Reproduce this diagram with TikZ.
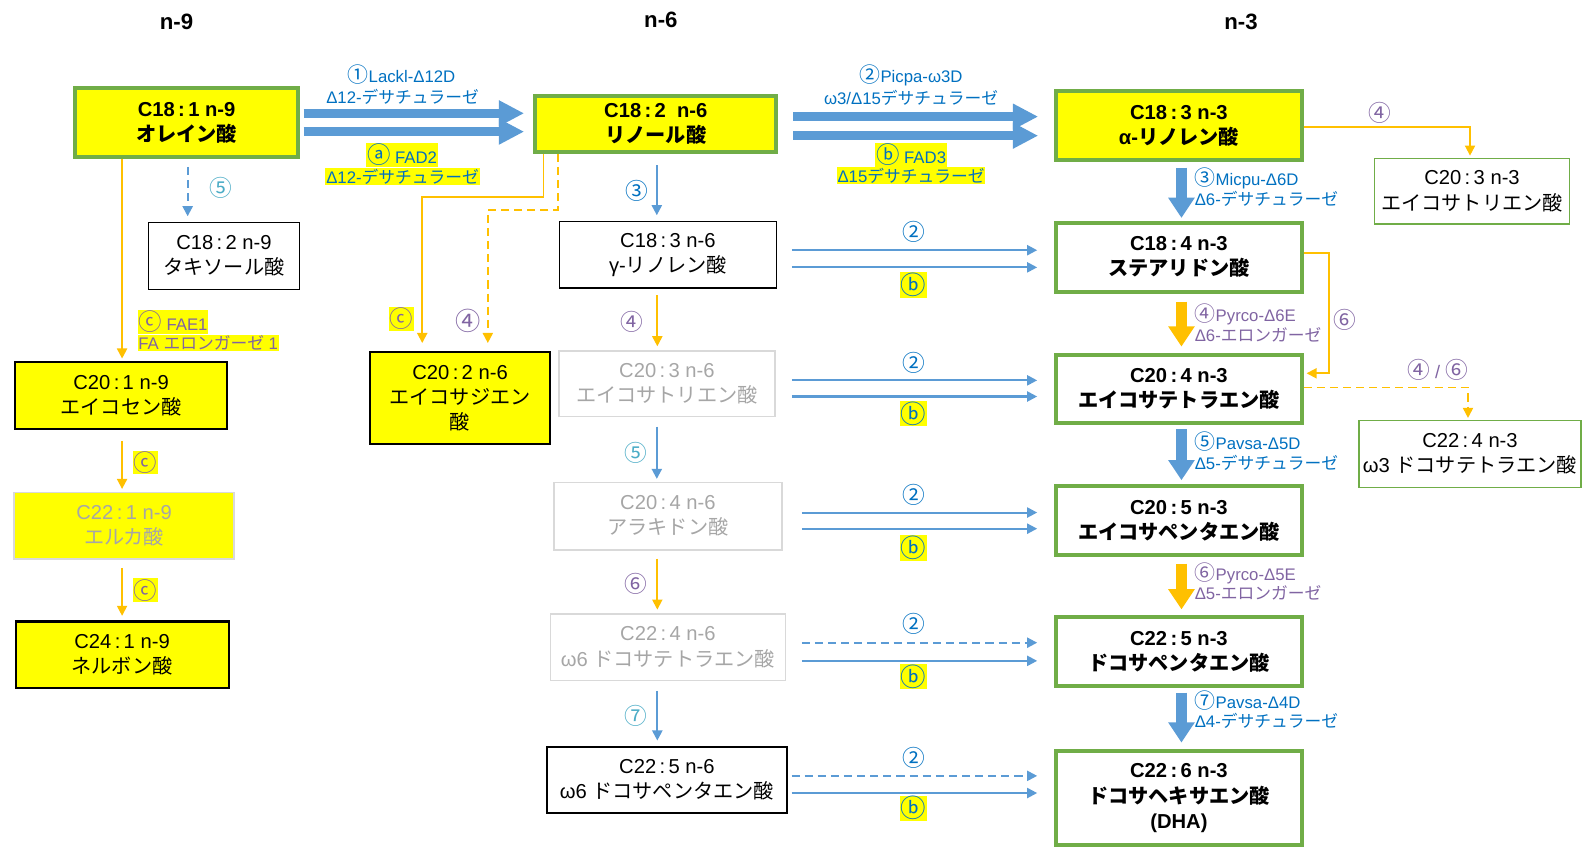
\documentclass[tikz,border=0pt]{standalone}
\usepackage{fontspec}
\setmainfont{Liberation Sans}
\newfontfamily\jpfont{Noto Sans CJK JP}
\newfontfamily\cfont[Scale=1.25]{Noto Sans CJK JP}
\newfontfamily\lfont[Scale=1.4]{Noto Sans CJK JP}
\newcommand\JP[1]{{\jpfont #1}}
\newcommand\CI[1]{{\cfont #1}}
\newcommand\CL[1]{{\lfont #1}}
\usetikzlibrary{arrows.meta,calc}
\definecolor{cblue}{HTML}{5B9BD5}
\definecolor{corange}{HTML}{FFC000}
\definecolor{cgreen}{HTML}{70AD47}
\definecolor{cyel}{HTML}{FFFF00}
\definecolor{tblue}{HTML}{0070C0}
\definecolor{tpurple}{HTML}{8064A2}
\definecolor{tcyan}{HTML}{4BACC6}
\definecolor{cgrayline}{HTML}{D9D9D9}
\definecolor{cgraytext}{HTML}{A6A6A6}
\begin{document}
\begin{tikzpicture}[x=0.5pt,y=-0.5pt,
  box/.style={draw=black, line width=0.75pt, align=center, inner sep=0pt, text=black, font=\fontsize{10}{12.5}\selectfont},
  gbox/.style={box, draw=cgreen, line width=2pt, font=\fontsize{10}{12.5}\selectfont\bfseries},
  graybox/.style={box, draw=cgrayline, text=cgraytext},
  tgbox/.style={box, draw=cgreen, line width=0.75pt},
  lbl/.style={inner sep=0.4pt, font=\fontsize{8.3}{9.5}\selectfont},
  cl/.style={inner sep=0.4pt, font=\fontsize{9}{10}\selectfont},
  hl/.style={fill=cyel},
  hdr/.style={font=\fontsize{11}{12}\selectfont\bfseries},
  bigh/.style={draw=cblue, line width=4.5pt, -{Triangle[length=12.5pt,width=12pt]}},
  bigvb/.style={draw=cblue, line width=5pt, -{Triangle[length=10pt,width=12.5pt]}},
  bigvo/.style={draw=corange, line width=5pt, -{Triangle[length=10pt,width=12.5pt]}},
  thb/.style={draw=cblue, line width=1pt, -{Triangle[length=5pt,width=5pt]}},
  tho/.style={draw=corange, line width=0.9pt, -{Triangle[length=5pt,width=5pt]}},
  dsh/.style={dash pattern=on 4pt off 2.5pt}
]
\useasboundingbox (0,0) rectangle (1568,839);

% headers
\node[hdr] (h9) at (175,22) {n-9};
\node[hdr] (h6) at (655,20) {n-6};
\node[hdr] (h3) at (1230,22) {n-3};

% n-9 column
\node[gbox, fill=cyel, minimum width=110.5pt, minimum height=34pt] (oleic) at (185,121.5) {C18\,:\,1 n-9\\\JP{オレイン酸}};
\node[box, fill=white, minimum width=75pt, minimum height=33pt] (taxo) at (222,253.7) {C18\,:\,2 n-9\\\JP{タキソール酸}};
\node[box, line width=1pt, fill=cyel, minimum width=105pt, minimum height=33pt] (c201) at (120,392) {C20\,:\,1 n-9\\\JP{エイコセン酸}};
\node[graybox, fill=cyel, minimum width=109pt, minimum height=33pt] (c221) at (123,521) {C22\,:\,1 n-9\\\JP{エルカ酸}};
\node[box, line width=1pt, fill=cyel, minimum width=105.5pt, minimum height=33pt] (c241) at (121,649) {C24\,:\,1 n-9\\\JP{ネルボン酸}};

% n-6 column
\node[gbox, fill=cyel, minimum width=119.5pt, minimum height=27.5pt] (lino) at (650,123) {C18\,:\,2 \ n-6\\\JP{リノール酸}};
\node[box, minimum width=107.5pt, minimum height=33pt] (gla) at (662,252.5) {C18\,:\,3 n-6\\γ-\JP{リノレン酸}};
\node[box, line width=1pt, fill=cyel, minimum width=89pt, minimum height=45.5pt] (c202) at (456,394.5) {C20\,:\,2 n-6\\\JP{エイコサジエン}\\\JP{酸}};
\node[graybox, minimum width=107pt, minimum height=32.5pt] (c203) at (661,380.5) {C20\,:\,3 n-6\\\JP{エイコサトリエン酸}};
\node[graybox, minimum width=113pt, minimum height=33.5pt] (c204) at (662,511.5) {C20\,:\,4 n-6\\\JP{アラキドン酸}};
\node[graybox, minimum width=116.5pt, minimum height=33pt] (c224) at (662,641.5) {C22\,:\,4 n-6\\ω6 \JP{ドコサテトラエン酸}};
\node[box, line width=1pt, minimum width=119pt, minimum height=33pt] (c225) at (661,773) {C22\,:\,5 n-6\\ω6 \JP{ドコサペンタエン酸}};

% n-3 column
\node[gbox, fill=cyel, minimum width=121.5pt, minimum height=34pt] (ala) at (1168.5,124.5) {C18\,:\,3 n-3\\α-\JP{リノレン酸}};
\node[gbox, minimum width=121.5pt, minimum height=34pt] (sda) at (1168.5,255) {C18\,:\,4 n-3\\\JP{ステアリドン酸}};
\node[gbox, minimum width=121.5pt, minimum height=34pt] (eta) at (1168.5,385.5) {C20\,:\,4 n-3\\\JP{エイコサテトラエン酸}};
\node[gbox, minimum width=121.5pt, minimum height=34pt] (epa) at (1168.5,516) {C20\,:\,5 n-3\\\JP{エイコサペンタエン酸}};
\node[gbox, minimum width=121.5pt, minimum height=34pt] (dpa) at (1168.5,646) {C22\,:\,5 n-3\\\JP{ドコサペンタエン酸}};
\node[gbox, minimum width=121.5pt, minimum height=47pt] (dha) at (1168.5,791) {C22\,:\,6 n-3\\\JP{ドコサヘキサエン酸}\\(DHA)};
\node[tgbox, minimum width=96.5pt, minimum height=32.5pt] (c203n3) at (1459,189.5) {C20\,:\,3 n-3\\\JP{エイコサトリエン酸}};
\node[tgbox, minimum width=110pt, minimum height=33pt] (c224n3) at (1457,450) {C22\,:\,4 n-3\\ω3 \JP{ドコサテトラエン酸}};

% thick horizontal arrows
\draw[bigh, shorten >=4.5pt] ([shift={(3.5,-9.2)}]oleic.east) coordinate (o1) -- (o1 -| lino.west);
\draw[bigh, shorten >=4.5pt] ([shift={(3.5,9)}]oleic.east) coordinate (o2) -- (o2 -| lino.west);
\draw[bigh, shorten >=8pt] ([shift={(14.5,-7.4)}]lino.east) coordinate (l1) -- (l1 -| ala.west);
\draw[bigh, shorten >=8pt] ([shift={(14.5,11.5)}]lino.east) coordinate (l2) -- (l2 -| ala.west);

\node[lbl, text=tblue] (lA1) at (398,74) {\CI{①}Lackl-Δ12D};
\node[lbl, text=tblue] (lA2) at (399,96) {Δ12-\JP{デサチュラーゼ}};
\node[lbl, text=tblue, hl] (lA3) at (398.5,153.6) {\CL{ⓐ} FAD2};
\node[lbl, text=tblue, hl] (lA4) at (399,175) {Δ12-\JP{デサチュラーゼ}};
\node[lbl, text=tblue] (lB1) at (903,74.3) {\CI{②}Picpa-ω3D};
\node[lbl, text=tblue] (lB2) at (903,96.5) {ω3/Δ15\JP{デサチュラーゼ}};
\node[lbl, text=tblue, hl] (lB3) at (903,153.6) {\CL{ⓑ} FAD3};
\node[lbl, text=tblue, hl] (lB4) at (903,174) {Δ15\JP{デサチュラーゼ}};

% n-9 column connectors
\draw[thb, dsh, shorten >=2.8pt] ([shift={(1,8)}]oleic.south) coordinate (d5) -- (d5 |- taxo.north);
\node[cl, text=tcyan] (k5) at (219,186) {\CI{⑤}};
\draw[tho, shorten >=1.3pt] ([shift={(-64,0)}]oleic.south) coordinate (f1) -- (f1 |- c201.north);
\node[lbl, text=tpurple, hl, anchor=west] (kc1) at (136,319) {\CL{ⓒ} FAE1};
\node[lbl, text=tpurple, hl, anchor=west] (kc2) at (136,340) {FA \JP{エロンガーゼ} 1};
\draw[tho, shorten >=1.3pt] ([shift={(1,11)}]c201.south) coordinate (f2) -- (f2 |- c221.north);
\node[lbl, text=tpurple, hl] (kc3) at (144,458.6) {\CL{ⓒ}};
\draw[tho, shorten >=2.3pt] ([shift={(-2,8)}]c221.south) coordinate (f3) -- (f3 |- c241.north);
\node[lbl, text=tpurple, hl] (kc4) at (144,585) {\CL{ⓒ}};

% linoleic to C20:2
\draw[tho, shorten >=4pt] ([shift={(-111.3,0)}]lino.south) -- ++(0,43) -| ([shift={(-37.5,0)}]c202.north);
\draw[tho, dsh, shorten >=4pt] ([shift={(-97,0)}]lino.south) -- ++(0,55.5) -| ([shift={(27.5,0)}]c202.north);
\node[lbl, text=tpurple, hl] (kc5) at (398,316) {\CL{ⓒ}};
\node[cl, text=tpurple, font=\fontsize{10}{11}\selectfont] (k4a) at (464,318) {\CI{④}};

% n-6 vertical chain
\draw[thb, shorten >=2.7pt] ([shift={(1,11.4)}]lino.south) coordinate (v1) -- (v1 |- gla.north);
\node[cl, text=tblue] (k3) at (631,189) {\CI{③}};
\draw[tho, shorten >=2pt] ([shift={(-10.5,6.2)}]gla.south) coordinate (v2) -- (v2 |- c203.north);
\node[cl, text=tpurple] (k4b) at (626,319) {\CI{④}};
\draw[thb, shorten >=1.3pt] ([shift={(-10,9)}]c203.south) coordinate (v3) -- (v3 |- c204.north);
\node[cl, text=tcyan] (k5b) at (630,449) {\CI{⑤}};
\draw[tho, shorten >=1.75pt] ([shift={(-10.5,8)}]c204.south) coordinate (v4) -- (v4 |- c224.north);
\node[cl, text=tpurple] (k6) at (630,579) {\CI{⑥}};
\draw[thb, shorten >=2.5pt] ([shift={(-10.5,9.4)}]c224.south) coordinate (v5) -- (v5 |- c225.north);
\node[cl, text=tcyan] (k7) at (630,710) {\CI{⑦}};

% n-6 to n-3 rows
\draw[thb, shorten >=8.5pt] ([shift={(14.5,-4.5)}]gla.east) coordinate (r1a) -- (r1a -| sda.west);
\draw[thb, shorten >=8.5pt] ([shift={(14.5,12.5)}]gla.east) coordinate (r1b) -- (r1b -| sda.west);
\node[cl, text=tblue] (q1a) at (906,229.6) {\CI{②}};
\node[cl, text=tblue, hl] (q1b) at (905,282.5) {\CL{ⓑ}};
\draw[thb, shorten >=8.5pt] ([shift={(16,-3.5)}]c203.east) coordinate (r2a) -- (r2a -| eta.west);
\draw[thb, shorten >=8.5pt] ([shift={(16,12.5)}]c203.east) coordinate (r2b) -- (r2b -| eta.west);
\node[cl, text=tblue] (q2a) at (906,359.5) {\CI{②}};
\node[cl, text=tblue, hl] (q2b) at (905,410) {\CL{ⓑ}};
\draw[thb, shorten >=8.5pt] ([shift={(19,-3.5)}]c204.east) coordinate (r3a) -- (r3a -| epa.west);
\draw[thb, shorten >=8.5pt] ([shift={(19,12.5)}]c204.east) coordinate (r3b) -- (r3b -| epa.west);
\node[cl, text=tblue] (q3a) at (906,490.6) {\CI{②}};
\node[cl, text=tblue, hl] (q3b) at (905,543) {\CL{ⓑ}};
\draw[thb, dsh, shorten >=8.5pt] ([shift={(15.5,-4.5)}]c224.east) coordinate (r4a) -- (r4a -| dpa.west);
\draw[thb, shorten >=8.5pt] ([shift={(15.5,13.5)}]c224.east) coordinate (r4b) -- (r4b -| dpa.west);
\node[cl, text=tblue] (q4a) at (906,618.5) {\CI{②}};
\node[cl, text=tblue, hl] (q4b) at (905,670.6) {\CL{ⓑ}};
\draw[thb, dsh, shorten >=8.5pt] ([shift={(3.5,-4)}]c225.east) coordinate (r5a) -- (r5a -| dha.west);
\draw[thb, shorten >=8.5pt] ([shift={(3.5,13)}]c225.east) coordinate (r5b) -- (r5b -| dha.west);
\node[cl, text=tblue] (q5a) at (906,751.5) {\CI{②}};
\node[cl, text=tblue, hl] (q5b) at (905,801) {\CL{ⓑ}};

% n-3 vertical thick arrows
\draw[bigvb, shorten >=1.5pt] ([shift={(2.5,5.6)}]ala.south) coordinate (w1) -- (w1 |- sda.north);
\draw[bigvo, shorten >=3pt] ([shift={(2.5,8)}]sda.south) coordinate (w2) -- (w2 |- eta.north);
\draw[bigvb, shorten >=2pt] ([shift={(2.5,4)}]eta.south) coordinate (w3) -- (w3 |- epa.north);
\draw[bigvo, shorten >=3pt] ([shift={(2.5,6.7)}]epa.south) coordinate (w4) -- (w4 |- dpa.north);
\draw[bigvb, shorten >=3pt] ([shift={(2.5,4.5)}]dpa.south) coordinate (w5) -- (w5 |- dha.north);

\node[lbl, text=tblue, anchor=west] (m1a) at (1183,176.6) {\CI{③}Micpu-Δ6D};
\node[lbl, text=tblue, anchor=west] (m1b) at (1183,197.5) {Δ6-\JP{デサチュラーゼ}};
\node[lbl, text=tpurple, anchor=west] (m2a) at (1183,312) {\CI{④}Pyrco-Δ6E};
\node[lbl, text=tpurple, anchor=west] (m2b) at (1183,332) {Δ6-\JP{エロンガーゼ}};
\node[lbl, text=tblue, anchor=west] (m3a) at (1183,437.7) {\CI{⑤}Pavsa-Δ5D};
\node[lbl, text=tblue, anchor=west] (m3b) at (1183,459) {Δ5-\JP{デサチュラーゼ}};
\node[lbl, text=tpurple, anchor=west] (m4a) at (1183,568) {\CI{⑥}Pyrco-Δ5E};
\node[lbl, text=tpurple, anchor=west] (m4b) at (1183,588) {Δ5-\JP{エロンガーゼ}};
\node[lbl, text=tblue, anchor=west] (m5a) at (1183,694) {\CI{⑦}Pavsa-Δ4D};
\node[lbl, text=tblue, anchor=west] (m5b) at (1183,714.7) {Δ4-\JP{デサチュラーゼ}};

% side branches
\draw[tho, shorten >=1pt] ([shift={(0,1)}]ala.east) -| ([shift={(-2,0)}]c203n3.north);
\node[cl, text=tpurple] (s4) at (1368,112) {\CI{④}};
\draw[tho] ([shift={(0,-4)}]sda.east) -- ++(25,0) |- ([shift={(3,-15.5)}]eta.east);
\node[cl, text=tpurple] (s6) at (1333,317) {\CI{⑥}};
\draw[tho, dsh, shorten >=1pt] ([shift={(0,-1.5)}]eta.east) -| ([shift={(-2,0)}]c224n3.north);
\node[cl, text=tpurple] (s46) at (1425,367) {\CI{④} / \CI{⑥}};
\end{tikzpicture}
\end{document}
